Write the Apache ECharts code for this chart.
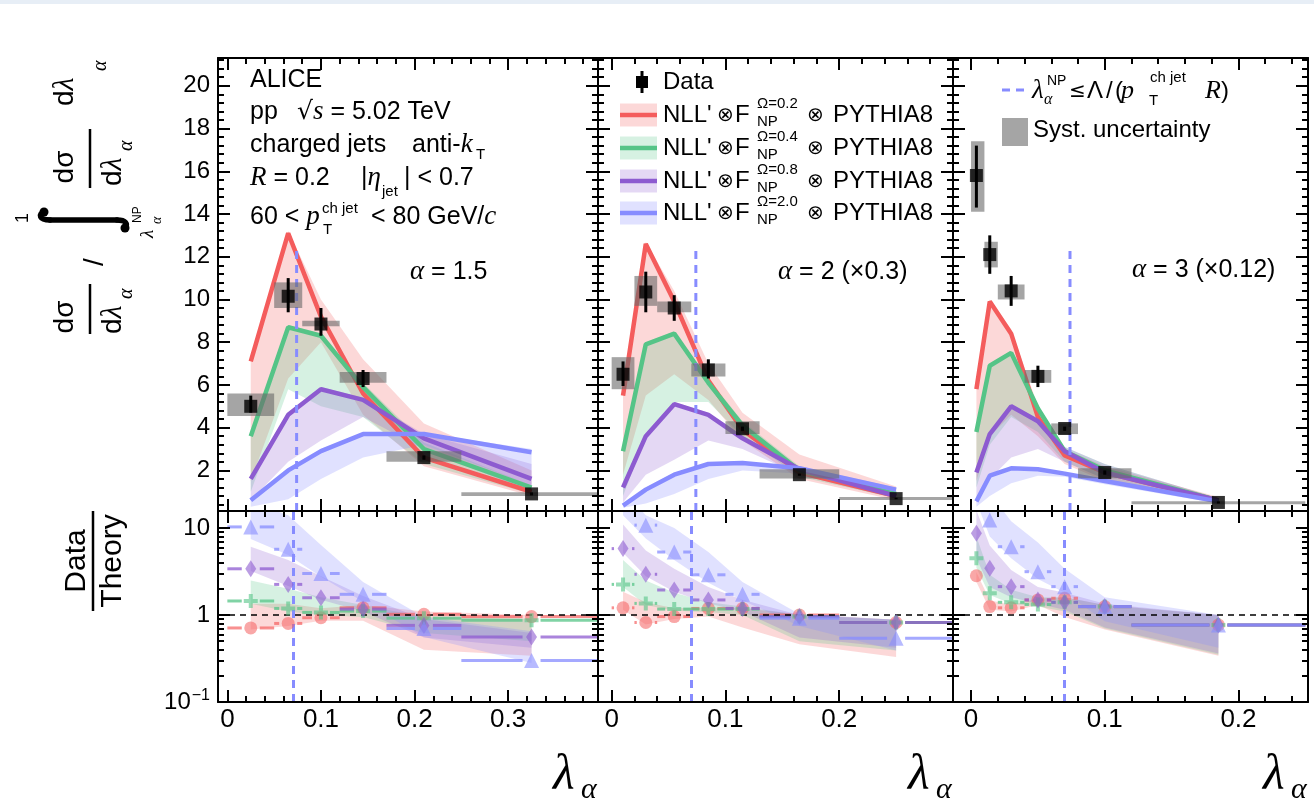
<!DOCTYPE html>
<html>
<head>
<meta charset="utf-8">
<title>Jet angularities, pp 5.02 TeV</title>
<script src="https://cdn.jsdelivr.net/npm/echarts@6.0.0/dist/echarts.min.js"></script>
<style>
  html, body { margin: 0; padding: 0; background: #ffffff; }
  #chart { width: 1314px; height: 802px; }
</style>
</head>
<body>
<div id="chart"></div>
<script>
// ---------------- alpha = 1.5 ----------------
const binsA15   = [0, 0.05, 0.08, 0.12, 0.17, 0.25, 0.4];
const lamA15    = [0.025, 0.065, 0.1, 0.145, 0.21, 0.325];
const dataA15   = [5.0, 10.15, 8.85, 6.3, 2.6, 0.9];
const statLoA15 = [4.7, 9.4, 8.3, 5.9, 2.5, 0.83];
const statHiA15 = [5.5, 11.0, 9.6, 6.7, 2.7, 0.97];
const systLoA15 = [4.55, 9.6, 8.75, 6.1, 2.4, 0.8];
const systHiA15 = [5.6, 10.8, 9.0, 6.6, 2.9, 0.98];
const om02A15   = [7.1, 13.1, 9.2, 5.6, 2.6, 1.0];
const om02LoA15 = [1.5, 6.3, 8.0, 4.6, 2.2, 0.8];
const om02HiA15 = [7.15, 13.2, 10.0, 7.2, 4.2, 2.0];
const om04A15   = [3.6, 8.7, 8.3, 5.9, 3.0, 1.2];
const om04LoA15 = [1.0, 5.8, 5.0, 4.5, 2.3, 0.9];
const om04HiA15 = [3.7, 8.8, 8.4, 6.1, 3.3, 1.3];
const om08A15   = [1.6, 4.6, 5.8, 5.3, 3.5, 1.6];
const om08LoA15 = [0.6, 2.4, 3.4, 4.5, 3.0, 1.0];
const om08HiA15 = [1.7, 4.7, 5.9, 5.4, 3.7, 2.3];
const om20A15   = [0.6, 2.0, 2.9, 3.7, 3.7, 2.85];
const om20LoA15 = [0.3, 0.65, 1.6, 2.6, 3.2, 1.3];
const om20HiA15 = [0.7, 2.1, 3.0, 3.75, 3.75, 3.0];
const rat02A15   = [0.71, 0.80, 0.93, 1.21, 1.02, 0.96];
const rat02LoA15 = [0.68, 0.75, 0.86, 0.86, 0.40, 0.34];
const rat02HiA15 = [1.35, 1.35, 1.2, 1.3, 1.1, 1.0];
const rat04A15   = [1.45, 1.19, 1.07, 1.11, 0.92, 0.87];
const rat04LoA15 = [1.35, 1.1, 1.0, 0.95, 0.62, 0.5];
const rat04HiA15 = [2.5, 2.0, 1.6, 1.3, 0.95, 0.9];
const rat08A15   = [3.4, 2.25, 1.58, 1.17, 0.76, 0.56];
const rat08LoA15 = [3.2, 2.15, 1.5, 1.1, 0.55, 0.42];
const rat08HiA15 = [6.1, 4.3, 2.8, 1.65, 0.9, 0.62];
const rat20A15   = [10.3, 5.7, 3.0, 1.73, 0.70, 0.30];
const rat20LoA15 = [7.5, 4.9, 2.75, 1.42, 0.56, 0.28];
const rat20HiA15 = [20, 14, 6.4, 2.4, 0.95, 0.65];

// ---------------- alpha = 2 (x0.3) ----------------
const binsA2   = [0, 0.02, 0.04, 0.07, 0.1, 0.13, 0.2, 0.3];
const lamA2    = [0.01, 0.03, 0.055, 0.085, 0.115, 0.165, 0.25];
const dataA2   = [6.5, 10.35, 9.6, 6.7, 3.95, 1.8, 0.68];
const statLoA2 = [5.95, 9.4, 9.0, 6.3, 3.85, 1.75, 0.65];
const statHiA2 = [7.1, 11.3, 10.2, 7.2, 4.05, 1.85, 0.72];
const systLoA2 = [5.8, 9.7, 9.4, 6.4, 3.7, 1.62, 0.64];
const systHiA2 = [7.3, 11.1, 9.9, 7.0, 4.3, 2.05, 0.76];
const om02A2   = [5.5, 12.6, 9.9, 6.2, 3.9, 1.9, 0.8];
const om02LoA2 = [1.8, 5.5, 6.5, 5.3, 3.4, 1.6, 0.6];
const om02HiA2 = [5.6, 12.7, 10.4, 7.0, 4.7, 2.75, 1.25];
const om04A2   = [2.9, 7.9, 8.4, 6.1, 4.1, 2.0, 0.9];
const om04LoA2 = [0.8, 3.6, 5.2, 5.2, 3.6, 1.7, 0.7];
const om04HiA2 = [3.0, 8.0, 8.5, 6.3, 4.3, 2.2, 1.0];
const om08A2   = [1.2, 3.6, 5.1, 4.6, 3.5, 2.05, 0.8];
const om08LoA2 = [0.5, 1.8, 2.5, 3.4, 3.0, 1.8, 0.7];
const om08HiA2 = [1.3, 3.7, 5.2, 4.7, 3.6, 2.2, 0.9];
const om20A2   = [0.35, 1.1, 1.8, 2.3, 2.35, 2.1, 1.1];
const om20LoA2 = [0.25, 0.45, 0.9, 1.6, 2.0, 1.85, 0.9];
const om20HiA2 = [0.4, 1.2, 1.9, 2.35, 2.4, 2.2, 1.2];
const rat02A2   = [1.21, 0.82, 0.96, 1.19, 1.19, 1.0, 0.82];
const rat02LoA2 = [1.15, 0.78, 0.9, 0.96, 0.72, 0.46, 0.33];
const rat02HiA2 = [1.85, 1.4, 1.2, 1.22, 1.2, 1.02, 0.88];
const rat04A2   = [2.25, 1.36, 1.17, 1.17, 1.17, 0.96, 0.82];
const rat04LoA2 = [2.1, 1.3, 1.12, 1.08, 1.0, 0.5, 0.39];
const rat04HiA2 = [4.3, 2.5, 1.8, 1.4, 1.25, 1.0, 0.88];
const rat08A2   = [5.8, 2.94, 1.94, 1.49, 1.19, 0.96, 0.82];
const rat08LoA2 = [5.2, 2.8, 1.85, 1.36, 1.1, 0.55, 0.42];
const rat08HiA2 = [11, 5.5, 3.4, 2.1, 1.5, 1.0, 0.88];
const rat20A2   = [18.5, 10.8, 5.3, 2.9, 1.73, 0.92, 0.54];
const rat20LoA2 = [14, 7.6, 4.3, 2.35, 1.47, 0.75, 0.39];
const rat20HiA2 = [28, 14, 10, 5.3, 2.4, 1.03, 0.88];

// ---------------- alpha = 3 (x0.12) ----------------
const binsA3   = [0, 0.01, 0.02, 0.04, 0.06, 0.08, 0.12, 0.25];
const lamA3    = [0.004, 0.014, 0.03, 0.05, 0.07, 0.1, 0.185];
const dataA3   = [15.8, 12.1, 10.4, 6.4, 3.96, 1.9, 0.5];
const statLoA3 = [14.3, 11.2, 9.7, 5.9, 3.85, 1.8, 0.45];
const statHiA3 = [17.2, 13.0, 11.1, 6.9, 4.05, 2.0, 0.55];
const systLoA3 = [14.1, 11.5, 10.0, 6.1, 3.7, 1.63, 0.44];
const systHiA3 = [17.4, 12.7, 10.7, 6.7, 4.2, 2.1, 0.56];
const om02A3   = [5.8, 9.9, 8.4, 4.5, 2.7, 1.9, 0.6];
const om02LoA3 = [1.5, 3.6, 4.6, 3.6, 2.3, 1.5, 0.45];
const om02HiA3 = [5.9, 10.0, 8.6, 5.0, 3.0, 2.2, 0.75];
const om04A3   = [3.8, 6.9, 7.5, 4.9, 2.9, 2.0, 0.6];
const om04LoA3 = [1.2, 3.2, 4.5, 3.8, 2.4, 1.6, 0.45];
const om04HiA3 = [3.9, 7.0, 7.6, 5.0, 3.1, 2.3, 0.7];
const om08A3   = [1.9, 3.7, 5.0, 4.3, 2.9, 1.9, 0.6];
const om08LoA3 = [0.5, 1.6, 2.6, 3.0, 2.4, 1.6, 0.45];
const om08HiA3 = [2.0, 3.8, 5.1, 4.4, 3.1, 2.3, 0.7];
const om20A3   = [0.55, 1.75, 2.1, 2.05, 1.85, 1.5, 0.55];
const om20LoA3 = [0.3, 0.8, 1.4, 1.75, 1.7, 1.35, 0.45];
const om20HiA3 = [0.6, 1.8, 2.15, 2.1, 1.9, 1.6, 0.6];
const rat02A3   = [2.83, 1.25, 1.21, 1.49, 1.56, 1.25, 0.77];
const rat02LoA3 = [2.4, 1.15, 1.1, 1.3, 0.95, 0.68, 0.34];
const rat02HiA3 = [3.1, 1.48, 1.3, 1.55, 1.6, 1.3, 1.0];
const rat04A3   = [4.5, 1.78, 1.40, 1.32, 1.40, 1.25, 0.77];
const rat04LoA3 = [3.5, 1.7, 1.35, 1.25, 1.1, 0.7, 0.35];
const rat04HiA3 = [8.0, 2.9, 1.95, 1.6, 1.6, 1.3, 1.0];
const rat08A3   = [8.7, 3.44, 2.12, 1.49, 1.40, 1.25, 0.77];
const rat08LoA3 = [4.5, 2.1, 1.6, 1.35, 1.15, 0.72, 0.36];
const rat08HiA3 = [16, 6.3, 3.3, 2.1, 1.8, 1.35, 1.0];
const rat20A3   = [28, 12.4, 6.1, 3.15, 2.12, 1.25, 0.77];
const rat20LoA3 = [20, 8.0, 4.5, 2.6, 1.8, 0.85, 0.42];
const rat20HiA3 = [45, 25, 12, 6.8, 3.4, 1.6, 1.0];

// ---------------- axes ----------------
const xRangeA15 = [-0.01, 0.396];
const xRangeA2  = [-0.012, 0.3];
const xRangeA3  = [-0.0135, 0.252];
const xTicksA15 = [0, 0.1, 0.2, 0.3];
const xTicksA2  = [0, 0.1, 0.2];
const xTicksA3  = [0, 0.1, 0.2];
const yRangeTop = [0.1, 21.3];
const yTicksTop = [2, 4, 6, 8, 10, 12, 14, 16, 18, 20];
const yRangeRatio = [0.1, 15.7];
const yTicksRatio = [0.1, 1, 10];
const lambdaNP = 0.074;      // Λ / (pT R)
const lambdaNPTop = 12.5;    // upper end of the marker line in the spectra pads

// ---------------- style ----------------
const SANS  = '"Liberation Sans", Arial, Helvetica, sans-serif';
const SERIF = '"Liberation Serif", "Times New Roman", serif';
const SYM   = '"DejaVu Sans", sans-serif';
const LINE_C = ['#f45c5c', '#55c487', '#8d5bd0', '#878cff'];
const BAND_C = ['rgba(244,92,92,0.24)', 'rgba(85,196,135,0.24)', 'rgba(141,91,208,0.24)', 'rgba(135,140,255,0.26)'];
const MARK_C = ['rgba(244,92,92,0.68)', 'rgba(85,196,135,0.75)', 'rgba(141,91,208,0.75)', 'rgba(135,140,255,0.75)'];
const MARK_S = ['circle', 'path://M5,0H9V5H14V9H9V14H5V9H0V5H5Z', 'diamond', 'triangle'];
const MARK_Z = [13, 14, [11, 17], 15];
const SYST_C = 'rgba(105,105,105,0.6)';
const NP_C = '#878cff';

const colBox = [[218, 380], [598, 355], [953, 355]];
const topBox = [58, 453];
const ratBox = [511, 191];

const panels = [
  { bins: binsA15, lam: lamA15, data: dataA15, statLo: statLoA15, statHi: statHiA15,
    systLo: systLoA15, systHi: systHiA15, xRange: xRangeA15, xTicks: xTicksA15,
    theory: [[om02A15, om02LoA15, om02HiA15], [om04A15, om04LoA15, om04HiA15],
             [om08A15, om08LoA15, om08HiA15], [om20A15, om20LoA15, om20HiA15]],
    ratio:  [[rat02A15, rat02LoA15, rat02HiA15], [rat04A15, rat04LoA15, rat04HiA15],
             [rat08A15, rat08LoA15, rat08HiA15], [rat20A15, rat20LoA15, rat20HiA15]] },
  { bins: binsA2, lam: lamA2, data: dataA2, statLo: statLoA2, statHi: statHiA2,
    systLo: systLoA2, systHi: systHiA2, xRange: xRangeA2, xTicks: xTicksA2,
    theory: [[om02A2, om02LoA2, om02HiA2], [om04A2, om04LoA2, om04HiA2],
             [om08A2, om08LoA2, om08HiA2], [om20A2, om20LoA2, om20HiA2]],
    ratio:  [[rat02A2, rat02LoA2, rat02HiA2], [rat04A2, rat04LoA2, rat04HiA2],
             [rat08A2, rat08LoA2, rat08HiA2], [rat20A2, rat20LoA2, rat20HiA2]] },
  { bins: binsA3, lam: lamA3, data: dataA3, statLo: statLoA3, statHi: statHiA3,
    systLo: systLoA3, systHi: systHiA3, xRange: xRangeA3, xTicks: xTicksA3,
    theory: [[om02A3, om02LoA3, om02HiA3], [om04A3, om04LoA3, om04HiA3],
             [om08A3, om08LoA3, om08HiA3], [om20A3, om20LoA3, om20HiA3]],
    ratio:  [[rat02A3, rat02LoA3, rat02HiA3], [rat04A3, rat04LoA3, rat04HiA3],
             [rat08A3, rat08LoA3, rat08HiA3], [rat20A3, rat20LoA3, rat20HiA3]] }
];

// ---------------- helpers ----------------
function stepTicks(range, step) {
  const out = [];
  for (let k = Math.ceil(range[0] / step - 1e-9); k * step <= range[1] + 1e-9; k++) {
    out.push(+(k * step).toFixed(6));
  }
  return out;
}
function logMinorTicks(range) {
  const out = [];
  const lo = Math.log10(range[0]), hi = Math.log10(range[1]);
  for (let d = Math.floor(lo); d <= Math.ceil(hi); d++) {
    for (let m = 2; m <= 9; m++) {
      const v = Math.log10(m) + d;
      if (v > lo && v < hi) out.push(v);
    }
  }
  return out;
}

const grids = [], xAxes = [], yAxes = [], series = [];

function addAxis(list, o) {
  list.push({
    type: o.type || 'value', gridIndex: o.grid, min: o.min, max: o.max, position: o.pos,
    show: o.show !== false, z: 10, logBase: 10,
    axisLine: { show: !!o.line, onZero: false, lineStyle: { color: '#000', width: 2 } },
    axisTick: o.ticks ? { show: true, inside: true, length: o.len, customValues: o.ticks,
                          lineStyle: { color: '#000', width: 2 } } : { show: false },
    axisLabel: o.label ? Object.assign({ show: true, customValues: o.ticks, color: '#000',
                          fontFamily: SANS }, o.label) : { show: false },
    splitLine: { show: false }, minorTick: { show: false }, minorSplitLine: { show: false },
    axisPointer: { show: false }
  });
  return list.length - 1;
}

function bandSeries(xi, yi, lam, lo, hi, fill) {
  return {
    type: 'custom', xAxisIndex: xi, yAxisIndex: yi, clip: true, silent: true, z: 2,
    data: lam.map((x, j) => [x, lo[j], hi[j]]),
    encode: { x: 0, y: [1, 2] },
    renderItem: (params, api) => {
      if (params.dataIndex !== 0) return null;
      const pts = [];
      for (let j = 0; j < lam.length; j++) pts.push(api.coord([lam[j], hi[j]]));
      for (let j = lam.length - 1; j >= 0; j--) pts.push(api.coord([lam[j], lo[j]]));
      return { type: 'polygon', shape: { points: pts }, style: { fill: fill } };
    }
  };
}

function binBarSeries(xi, yi, bins, lam, vals, color) {
  return {
    type: 'custom', xAxisIndex: xi, yAxisIndex: yi, clip: true, silent: true, z: 4,
    data: lam.map((x, j) => [bins[j], bins[j + 1], x, vals[j]]),
    encode: { x: [0, 1, 2], y: 3 },
    renderItem: (params, api) => {
      const v = api.value(3);
      const a = api.coord([api.value(0), v]);
      const b = api.coord([api.value(1), v]);
      const c = api.coord([api.value(2), v]);
      const gap = 9, st = { stroke: color, lineWidth: 3 };
      const kids = [];
      if (c[0] - gap > a[0]) kids.push({ type: 'line', shape: { x1: a[0], y1: a[1], x2: c[0] - gap, y2: a[1] }, style: st });
      if (b[0] > c[0] + gap) kids.push({ type: 'line', shape: { x1: c[0] + gap, y1: a[1], x2: b[0], y2: a[1] }, style: st });
      return { type: 'group', children: kids };
    }
  };
}

// ---------------- build pads ----------------
panels.forEach((pn, i) => {
  const [left, width] = colBox[i];
  const xMinor = stepTicks(pn.xRange, 0.02);

  // upper pad: spectra
  const gT = grids.length;
  grids.push({ left: left, top: topBox[0], width: width, height: topBox[1], containLabel: false, outerBoundsMode: 'none' });
  const xT = addAxis(xAxes, { grid: gT, min: pn.xRange[0], max: pn.xRange[1], pos: 'bottom', ticks: pn.xTicks, len: 12, line: true });
  addAxis(xAxes, { grid: gT, min: pn.xRange[0], max: pn.xRange[1], pos: 'bottom', ticks: xMinor, len: 6 });
  addAxis(xAxes, { grid: gT, min: pn.xRange[0], max: pn.xRange[1], pos: 'top', ticks: pn.xTicks, len: 12, line: true });
  addAxis(xAxes, { grid: gT, min: pn.xRange[0], max: pn.xRange[1], pos: 'top', ticks: xMinor, len: 6 });
  const yMinor = stepTicks(yRangeTop, 0.4);
  const yT = addAxis(yAxes, { grid: gT, min: yRangeTop[0], max: yRangeTop[1], pos: 'left', ticks: yTicksTop, len: 12, line: true,
                              label: i === 0 ? { fontSize: 24, margin: 8 } : null });
  addAxis(yAxes, { grid: gT, min: yRangeTop[0], max: yRangeTop[1], pos: 'left', ticks: yMinor, len: 6 });
  addAxis(yAxes, { grid: gT, min: yRangeTop[0], max: yRangeTop[1], pos: 'right', ticks: yTicksTop, len: 12, line: true });
  addAxis(yAxes, { grid: gT, min: yRangeTop[0], max: yRangeTop[1], pos: 'right', ticks: yMinor, len: 6 });

  pn.theory.forEach((t, k) => series.push(bandSeries(xT, yT, pn.lam, t[1], t[2], BAND_C[k])));
  pn.theory.forEach((t, k) => series.push({
    type: 'line', xAxisIndex: xT, yAxisIndex: yT, z: 3, silent: true, symbol: 'none',
    data: pn.lam.map((x, j) => [x, t[0][j]]),
    lineStyle: { color: LINE_C[k], width: 4.5 }
  }));
  series.push({
    type: 'line', xAxisIndex: xT, yAxisIndex: yT, z: 4, silent: true, symbol: 'none',
    data: [[lambdaNP, yRangeTop[0]], [lambdaNP, lambdaNPTop]],
    lineStyle: { color: NP_C, width: 3, type: [8, 6] }
  });
  series.push({
    type: 'custom', xAxisIndex: xT, yAxisIndex: yT, z: 5, silent: true, clip: true,
    data: pn.lam.map((x, j) => [pn.bins[j], pn.bins[j + 1], pn.systLo[j], pn.systHi[j]]),
    encode: { x: [0, 1], y: [2, 3] },
    renderItem: (params, api) => {
      const a = api.coord([api.value(0), api.value(3)]);
      const b = api.coord([api.value(1), api.value(2)]);
      return { type: 'rect', shape: { x: a[0], y: a[1], width: b[0] - a[0], height: Math.max(b[1] - a[1], 3) },
               style: { fill: SYST_C } };
    }
  });
  series.push({
    type: 'custom', xAxisIndex: xT, yAxisIndex: yT, z: 6, silent: true, clip: true,
    data: pn.lam.map((x, j) => [x, pn.statLo[j], pn.statHi[j]]),
    encode: { x: 0, y: [1, 2] },
    renderItem: (params, api) => {
      const a = api.coord([api.value(0), api.value(1)]);
      const b = api.coord([api.value(0), api.value(2)]);
      return { type: 'line', shape: { x1: a[0], y1: a[1], x2: b[0], y2: b[1] }, style: { stroke: '#000', lineWidth: 3 } };
    }
  });
  series.push({
    type: 'scatter', xAxisIndex: xT, yAxisIndex: yT, z: 7, silent: true,
    symbol: 'rect', symbolSize: 13, itemStyle: { color: '#000' },
    data: pn.lam.map((x, j) => [x, pn.data[j]])
  });
});

panels.forEach((pn, i) => {
  const [left, width] = colBox[i];
  const xMinor = stepTicks(pn.xRange, 0.02);
  const lr = [Math.log10(yRangeRatio[0]), Math.log10(yRangeRatio[1])];
  const lMajor = yTicksRatio.map(v => Math.log10(v));
  const lMinor = logMinorTicks(yRangeRatio);

  // lower pad: data / theory
  const gR = grids.length;
  grids.push({ left: left, top: ratBox[0], width: width, height: ratBox[1], containLabel: false, outerBoundsMode: 'none' });
  const xR = addAxis(xAxes, { grid: gR, min: pn.xRange[0], max: pn.xRange[1], pos: 'bottom', ticks: pn.xTicks, len: 12, line: true,
                              label: { fontSize: 26, margin: 5, formatter: v => (Math.abs(v) < 1e-9 ? '0' : (+v).toFixed(1)) } });
  addAxis(xAxes, { grid: gR, min: pn.xRange[0], max: pn.xRange[1], pos: 'bottom', ticks: xMinor, len: 6 });
  addAxis(xAxes, { grid: gR, min: pn.xRange[0], max: pn.xRange[1], pos: 'top', ticks: pn.xTicks, len: 12, line: true });
  addAxis(xAxes, { grid: gR, min: pn.xRange[0], max: pn.xRange[1], pos: 'top', ticks: xMinor, len: 6 });
  const yR = addAxis(yAxes, { grid: gR, type: 'log', min: yRangeRatio[0], max: yRangeRatio[1], pos: 'left', show: false });
  addAxis(yAxes, { grid: gR, min: lr[0], max: lr[1], pos: 'left', ticks: lMajor, len: 12, line: true,
                   label: i === 0 ? {
                     fontSize: 24, margin: 8,
                     formatter: v => (v < -0.5 ? '10{s|−1}' : (v < 0.5 ? '1' : '10')),
                     rich: { s: { fontSize: 16, fontFamily: SANS, color: '#000', verticalAlign: 'top', padding: [0, 0, 12, 1] } }
                   } : null });
  addAxis(yAxes, { grid: gR, min: lr[0], max: lr[1], pos: 'left', ticks: lMinor, len: 6 });
  addAxis(yAxes, { grid: gR, min: lr[0], max: lr[1], pos: 'right', ticks: lMajor, len: 12, line: true });
  addAxis(yAxes, { grid: gR, min: lr[0], max: lr[1], pos: 'right', ticks: lMinor, len: 6 });

  pn.ratio.forEach((r, k) => series.push(bandSeries(xR, yR, pn.lam, r[1], r[2], BAND_C[k])));
  pn.ratio.forEach((r, k) => series.push(binBarSeries(xR, yR, pn.bins, pn.lam, r[0], MARK_C[k])));
  pn.ratio.forEach((r, k) => series.push({
    type: 'scatter', xAxisIndex: xR, yAxisIndex: yR, z: 6, silent: true,
    symbol: MARK_S[k], symbolSize: MARK_Z[k], itemStyle: { color: MARK_C[k] },
    data: pn.lam.map((x, j) => [x, r[0][j]]),
    markLine: k === 0 ? {
      silent: true, symbol: 'none', label: { show: false }, animation: false,
      data: [
        { yAxis: 1, lineStyle: { color: '#000', width: 1.5, type: [6, 5] } },
        { xAxis: lambdaNP, lineStyle: { color: NP_C, width: 3, type: [8, 6] } }
      ]
    } : undefined
  }));
});

// ---------------- text ----------------
function txt(x, y, text, size, opt) {
  opt = opt || {};
  const al = opt.align || 'left';
  return {
    type: 'text', x: x, y: y, z: 100, silent: true,
    style: {
      text: text, fontSize: size, fontFamily: opt.font || SANS,
      fontStyle: opt.italic ? 'italic' : 'normal', fill: '#000',
      align: al, verticalAlign: 'middle', textAlign: al, textVerticalAlign: 'middle',
      rich: {
        i: { fontFamily: SERIF, fontStyle: 'italic', fontSize: Math.round(size * 1.08), fill: '#000' },
        y: { fontFamily: SYM, fontSize: size, fill: '#000' }
      }
    }
  };
}
function hline(x1, y1, x2, y2, stroke, w, dash) {
  return { type: 'line', z: 100, silent: true, shape: { x1, y1, x2, y2 },
           style: { stroke: stroke, lineWidth: w, lineDash: dash || null } };
}
function box(x, y, w, h, fill) {
  return { type: 'rect', z: 100, silent: true, shape: { x, y, width: w, height: h }, style: { fill: fill } };
}

const graphics = [];
graphics.push({ type: 'rect', z: 0, silent: true, shape: { x: 0, y: 0, width: 1314, height: 4 }, style: { fill: '#e7eef6' } });

// collaboration and selection
graphics.push(txt(250, 80, 'ALICE', 25));
graphics.push(txt(250, 112, 'pp', 25));
graphics.push(txt(297, 112, '{y|√}{i|s} = 5.02 TeV', 25));
graphics.push(txt(250, 145, 'charged jets', 25));
graphics.push(txt(412, 145, 'anti-{i|k}', 25));
graphics.push(txt(476, 155, 'T', 15));
graphics.push(txt(250, 178, '{i|R} = 0.2', 25));
graphics.push(txt(361, 178, '|{i|η}', 25));
graphics.push(txt(382, 192, 'jet', 15));
graphics.push(txt(404, 178, '| < 0.7', 25));
graphics.push(txt(250, 217, '60 < {i|p}', 25));
graphics.push(txt(322, 209, 'ch jet', 15));
graphics.push(txt(323, 230, 'T', 15));
graphics.push(txt(371, 217, '< 80 GeV/{i|c}', 25));

// pad labels
graphics.push(txt(410, 272, '{i|α} = 1.5', 25));
graphics.push(txt(778, 272, '{i|α} = 2 (×0.3)', 25));
graphics.push(txt(1132, 270, '{i|α} = 3 (×0.12)', 25));

// legend: data and predictions
graphics.push(box(636, 76, 12, 12, '#000'));
graphics.push(hline(642, 71, 642, 93, '#000', 3));
graphics.push(txt(663, 82, 'Data', 24));
const omegaLabels = ['Ω=0.2', 'Ω=0.4', 'Ω=0.8', 'Ω=2.0'];
const legendRows = [115, 148, 181, 213];
legendRows.forEach((ry, k) => {
  graphics.push(box(620, ry - 11.5, 37, 23, BAND_C[k]));
  graphics.push(hline(620, ry, 657, ry, LINE_C[k], 4.5));
  graphics.push(txt(663, ry, "NLL'", 24));
  graphics.push(txt(717, ry + 1, '⊗', 20, { font: SYM }));
  graphics.push(txt(735, ry, 'F', 24));
  graphics.push(txt(757, ry - 11, omegaLabels[k], 15));
  graphics.push(txt(757, ry + 7, 'NP', 15));
  graphics.push(txt(807, ry + 1, '⊗', 20, { font: SYM }));
  graphics.push(txt(833, ry, 'PYTHIA8', 24));
});

// legend: non-perturbative boundary and systematics
graphics.push(hline(1002, 90, 1027, 90, NP_C, 3, [8, 6]));
graphics.push(txt(1032, 91, 'λ', 27, { font: SERIF, italic: true }));
graphics.push(txt(1044, 100, 'α', 16, { font: SERIF, italic: true }));
graphics.push(txt(1047, 81, 'NP', 14));
graphics.push(txt(1069, 92, '≤', 20, { font: SYM }));
graphics.push(txt(1087, 91, 'Λ', 24));
graphics.push(txt(1106, 91, '/', 24));
graphics.push(txt(1115, 91, '(', 24));
graphics.push(txt(1121, 91, 'p', 26, { font: SERIF, italic: true }));
graphics.push(txt(1150, 78, 'ch jet', 15));
graphics.push(txt(1149, 101, 'T', 15));
graphics.push(txt(1205, 91, '{i|R})', 24));
graphics.push(box(1002, 118, 26, 28, SYST_C));
graphics.push(txt(1033, 130, 'Syst. uncertainty', 24));

// x titles
colBox.forEach(([l, w]) => {
  const r = l + w;
  graphics.push(txt(r - 45, 776, 'λ', 50, { font: SERIF, italic: true }));
  graphics.push(txt(r - 17, 790, 'α', 30, { font: SERIF, italic: true }));
});

// rotated y titles (local x = -screenY, local y = screenX)
function rt(sx, sy, text, size, opt) {
  return txt(-sy, sx, text, size, opt);
}
const INK = { stroke: '#000', lineWidth: 5.5, fill: null, lineCap: 'round' };
const rot = [];
// lower-left fraction dσ/dλα
rot.push(rt(65, 317, 'dσ', 28, { align: 'center' }));
rot.push({ type: 'line', shape: { x1: -334, y1: 90, x2: -284, y2: 90 }, style: { stroke: '#000', lineWidth: 2.5 } });
rot.push(rt(113, 334, 'd{i|λ}', 28));
rot.push(rt(127, 299, 'α', 20, { font: SERIF, italic: true }));
rot.push(rt(95, 262, '/', 28, { align: 'center' }));
// integral sign with limits
rot.push({ type: 'bezierCurve', shape: { x1: -212, y1: 44, cpx1: -214, cpy1: 38, cpx2: -220, cpy2: 39, x2: -220, y2: 50 }, style: INK });
rot.push({ type: 'line', shape: { x1: -220, y1: 50, x2: -220, y2: 117 }, style: INK });
rot.push({ type: 'bezierCurve', shape: { x1: -220, y1: 117, cpx1: -220, cpy1: 126, cpx2: -224, cpy2: 128, x2: -228, y2: 125 }, style: INK });
rot.push({ type: 'circle', shape: { cx: -212, cy: 44, r: 4.5 }, style: { fill: '#000' } });
rot.push({ type: 'circle', shape: { cx: -228, cy: 125, r: 4.5 }, style: { fill: '#000' } });
rot.push(rt(23, 218, '1', 18, { align: 'center' }));
rot.push(rt(148, 238, 'λ', 19, { font: SERIF, italic: true }));
rot.push(rt(157, 224, 'α', 14, { font: SERIF, italic: true }));
rot.push(rt(138, 223, 'NP', 12));
// upper fraction dσ/dλα and dλα
rot.push(rt(65, 167, 'dσ', 28, { align: 'center' }));
rot.push({ type: 'line', shape: { x1: -188, y1: 90, x2: -129, y2: 90 }, style: { stroke: '#000', lineWidth: 2.5 } });
rot.push(rt(113, 186, 'd{i|λ}', 28));
rot.push(rt(127, 151, 'α', 20, { font: SERIF, italic: true }));
rot.push(rt(65, 106, 'd{i|λ}', 28));
rot.push(rt(101, 71, 'α', 20, { font: SERIF, italic: true }));
// ratio title
rot.push(rt(77, 561, 'Data', 30, { align: 'center' }));
rot.push({ type: 'line', shape: { x1: -611, y1: 93, x2: -511, y2: 93 }, style: { stroke: '#000', lineWidth: 2.5 } });
rot.push(rt(113, 561, 'Theory', 30, { align: 'center' }));
rot.forEach(e => { e.z = 100; e.silent = true; });
graphics.push({ type: 'group', x: 0, y: 0, rotation: Math.PI / 2, z: 100, children: rot });

// ---------------- chart ----------------
const chart = echarts.init(document.getElementById('chart'), null, { renderer: 'canvas' });
chart.setOption({
  animation: false,
  backgroundColor: '#ffffff',
  grid: grids,
  xAxis: xAxes,
  yAxis: yAxes,
  series: series,
  graphic: { elements: graphics }
});
</script>
</body>
</html>
